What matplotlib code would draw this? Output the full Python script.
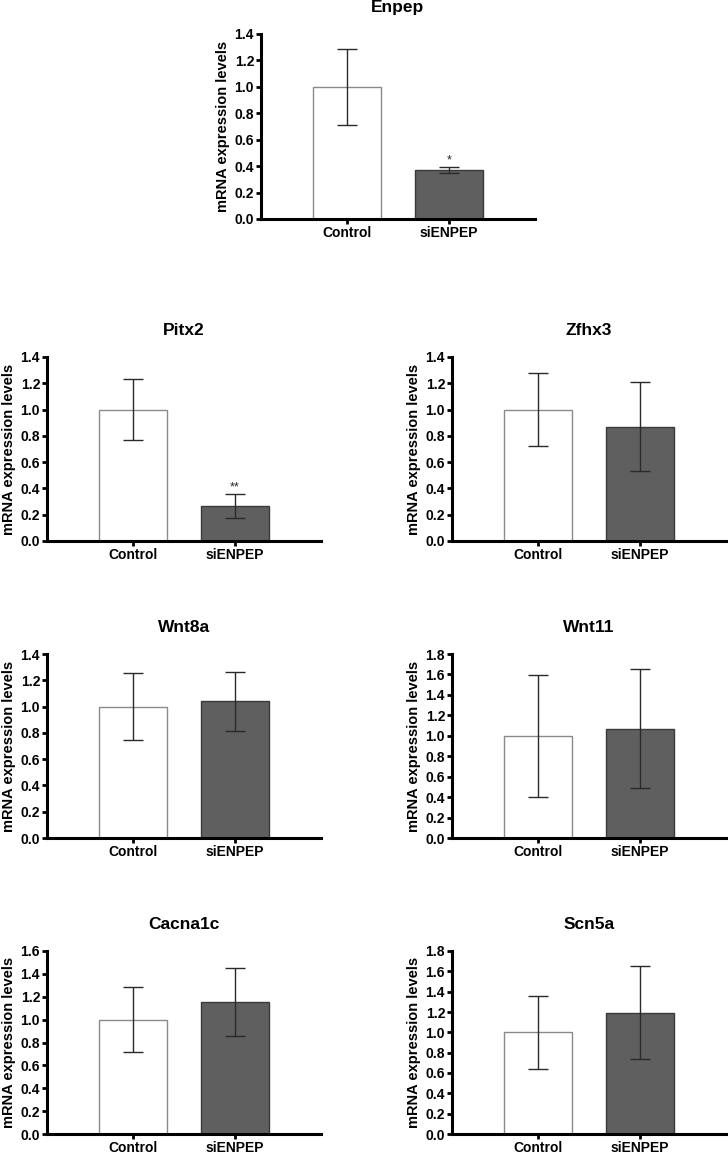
import matplotlib
matplotlib.use("Agg")
import matplotlib.pyplot as plt
import numpy as np

plt.rcParams['font.family'] = ['Liberation Sans', 'DejaVu Sans']
plt.rcParams['font.weight'] = 'bold'

groups = ["Control", "siENPEP"]
genes = ["Enpep", "Pitx2", "Zfhx3", "Wnt8a", "Wnt11", "Cacna1c", "Scn5a"]
means = {
    "Enpep": [1.0, 0.37],
    "Pitx2": [1.0, 0.265],
    "Zfhx3": [1.0, 0.87],
    "Wnt8a": [1.0, 1.04],
    "Wnt11": [1.0, 1.07],
    "Cacna1c": [1.0, 1.155],
    "Scn5a": [1.0, 1.195],
}
errs = {
    "Enpep": [0.29, 0.02],
    "Pitx2": [0.23, 0.09],
    "Zfhx3": [0.28, 0.34],
    "Wnt8a": [0.255, 0.225],
    "Wnt11": [0.595, 0.58],
    "Cacna1c": [0.285, 0.295],
    "Scn5a": [0.357, 0.455],
}
ymax = {"Enpep": 1.4, "Pitx2": 1.4, "Zfhx3": 1.4, "Wnt8a": 1.4,
        "Wnt11": 1.8, "Cacna1c": 1.6, "Scn5a": 1.8}
stars = {"Enpep": "*", "Pitx2": "**"}

W, H = 728, 1156
fig = plt.figure(figsize=(W / 100, H / 100), dpi=100)

# pixel boxes: (left, top, bottom)
boxes = {
    "Enpep": (261, 34, 219),
    "Pitx2": (47, 357, 541),
    "Zfhx3": (452, 357, 541),
    "Wnt8a": (47, 654, 838),
    "Wnt11": (452, 654, 838),
    "Cacna1c": (47, 951, 1134),
    "Scn5a": (452, 951, 1134),
}
axw = 274

fills = ["white", "#5f5f5f"]
edges = ["#8a8a8a", "#3a3a3a"]

for g in genes:
    l, t, b = boxes[g]
    ax = fig.add_axes([l / W, 1 - b / H, axw / W, (b - t) / H])
    x = np.arange(len(groups))
    ax.bar(x, means[g], width=0.667, color=fills, edgecolor=edges, linewidth=1.0, zorder=2)
    ax.errorbar(x, means[g], yerr=errs[g], fmt="none", ecolor="#2a2a2a",
                elinewidth=1.0, capsize=7.5, capthick=1.0, zorder=3)
    if g in stars:
        ax.text(1, means[g][1] + errs[g][1] + 0.01, stars[g], ha="center", va="bottom",
                fontsize=9, fontweight="normal", color="#222222")
    ax.set_xlim(-0.843, 1.843)
    ax.set_ylim(0, ymax[g])
    ax.set_yticks(np.arange(0, ymax[g] + 0.01, 0.2))
    ax.set_yticklabels(["%.1f" % v for v in np.arange(0, ymax[g] + 0.01, 0.2)])
    ax.set_xticks(x)
    ax.set_xticklabels(groups)
    for s in ["top", "right"]:
        ax.spines[s].set_visible(False)
    for s in ["left", "bottom"]:
        ax.spines[s].set_linewidth(2.2)
    ax.tick_params(axis="both", width=2.0, length=3.5, labelsize=10, pad=1.5)
    ax.tick_params(axis="x", length=3.5, pad=1.5)
    ax.set_ylabel("mRNA expression levels", fontsize=10.5, fontweight="bold", labelpad=3)
    ax.set_title(g, fontsize=12.5, fontweight="bold", pad=16)

fig.savefig("out.png", dpi=100)
